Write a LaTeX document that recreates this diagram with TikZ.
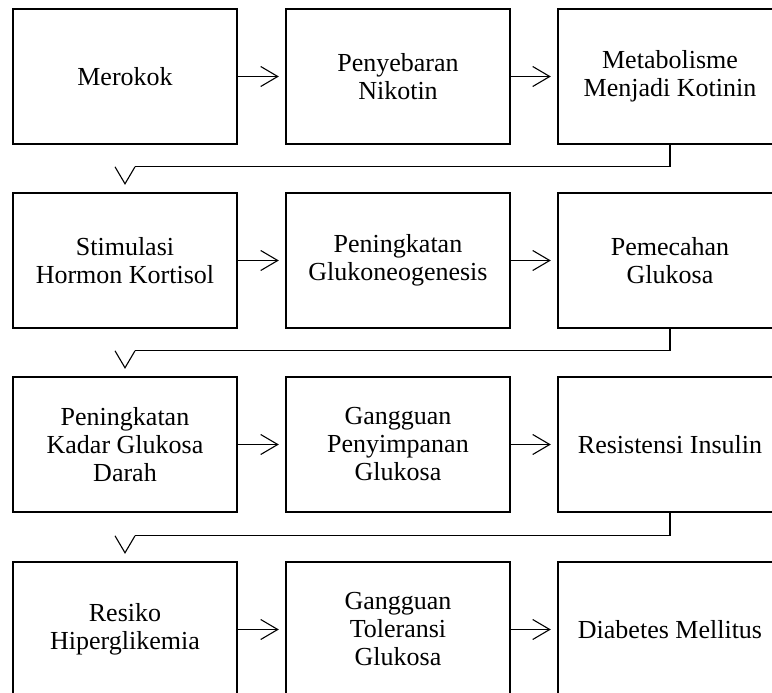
\documentclass[tikz,border=0pt]{standalone}
\usepackage{fontspec}
\setmainfont{Liberation Serif}
\usetikzlibrary{arrows.meta}
\begin{document}
\begin{tikzpicture}[x=1pt,y=1pt,
  flowbox/.style={draw=black, line width=2.4pt, minimum width=224pt, minimum height=135pt,
    align=center, inner sep=2pt, font=\fontsize{26}{28}\selectfont},
  conn/.style={draw=black, line width=1.1pt},
  harr/.style={conn, -{Straight Barb[length=17pt,width=20pt,line width=1.1pt]}, shorten >=6pt}]
\useasboundingbox (0,0) rectangle (772,-693);
\clip (0,0) rectangle (772,-693);
\fill[white] (0,0) rectangle (772,-693);
% row 1
\node[flowbox] (a1) at (125,-76.5) {Merokok};
\node[flowbox] (a2) at (398,-76.5) {Penyebaran\\Nikotin};
\node[flowbox] (a3) at (670,-76.5) {Metabolisme\\Menjadi Kotinin};
% row 2
\node[flowbox] (b1) at (125,-260.5) {Stimulasi\\Hormon Kortisol};
\node[flowbox] (b2) at (398,-260.5) {Peningkatan\\Glukoneogenesis};
\node[flowbox] (b3) at (670,-260.5) {Pemecahan\\Glukosa};
% row 3
\node[flowbox] (c1) at (125,-444.5) {Peningkatan\\Kadar Glukosa\\Darah};
\node[flowbox] (c2) at (398,-444.5) {Gangguan\\Penyimpanan\\Glukosa};
\node[flowbox] (c3) at (670,-444.5) {Resistensi Insulin};
% row 4
\node[flowbox] (d1) at (125,-629.5) {Resiko\\Hiperglikemia};
\node[flowbox] (d2) at (398,-629.5) {Gangguan\\Toleransi\\Glukosa};
\node[flowbox] (d3) at (670,-629.5) {Diabetes Mellitus};
% horizontal arrows
\draw[harr] (a1.east) -- (a2.west);
\draw[harr] (a2.east) -- (a3.west);
\draw[harr] (b1.east) -- (b2.west);
\draw[harr] (b2.east) -- (b3.west);
\draw[harr] (c1.east) -- (c2.west);
\draw[harr] (c2.east) -- (c3.west);
\draw[harr] (d1.east) -- (d2.west);
\draw[harr] (d2.east) -- (d3.west);
% row-to-row connectors with open V heads
\foreach \s/\t in {a3/b1, b3/c1, c3/d1}{
  \draw[conn] (\s.south) |- ([xshift=10pt,yshift=25pt]\t.north);
  \draw[conn, line join=miter] ([xshift=-10pt,yshift=25pt]\t.north) -- ([yshift=8pt]\t.north) -- ([xshift=10pt,yshift=25pt]\t.north);
}
\end{tikzpicture}
\end{document}
